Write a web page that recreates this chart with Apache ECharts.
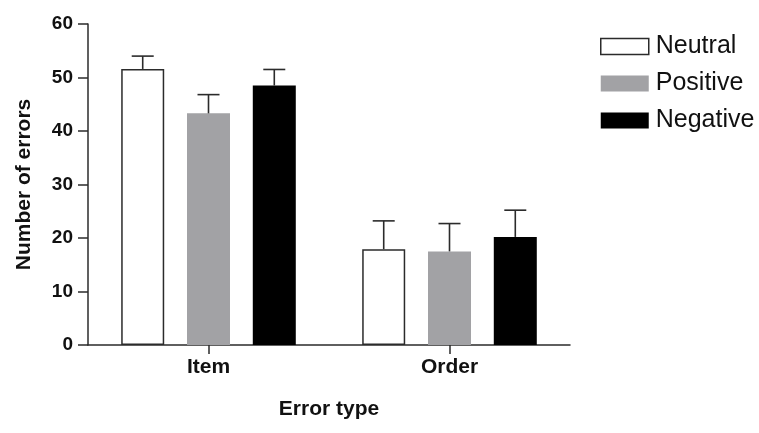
<!DOCTYPE html>
<html>
<head>
<meta charset="utf-8">
<script src="https://cdn.jsdelivr.net/npm/echarts@6/dist/echarts.min.js"></script>
<style>html,body{margin:0;padding:0;background:#fff}#c{width:759px;height:433px}</style>
</head>
<body>
<div id="c"></div>
<script>
var categories = ['Item', 'Order'];
var seriesNames = ['Neutral', 'Positive', 'Negative'];
var neutralValues = [51.6, 17.9];
var neutralErrors = [2.4, 5.3];
var positiveValues = [43.3, 17.5];
var positiveErrors = [3.5, 5.2];
var negativeValues = [48.5, 20.2];
var negativeErrors = [3.0, 5.0];
var yTicks = { min: 0, max: 60, interval: 10 };

var BAR_W = 43, GAP_RATIO = 0.53;
var axisColor = '#2b2b2b';
var fills = ['#ffffff', '#a2a2a5', '#000000'];
var values = [neutralValues, positiveValues, negativeValues];
var errors = [neutralErrors, positiveErrors, negativeErrors];
var axisFont = 'Liberation Sans, Arial, sans-serif';

var chart = echarts.init(document.getElementById('c'), null, { renderer: 'canvas' });

var series = [];
seriesNames.forEach(function (name, i) {
  series.push({
    name: name,
    type: 'bar',
    data: values[i],
    barWidth: BAR_W,
    barGap: (GAP_RATIO * 100) + '%',
    itemStyle: {
      color: fills[i],
      borderColor: i === 0 ? axisColor : fills[i],
      borderWidth: i === 0 ? 1.5 : 0
    },
    z: 2
  });
});

seriesNames.forEach(function (name, i) {
  var data = values[i].map(function (v, k) { return [k, v, v + errors[i][k]]; });
  var offset = (i - 1) * BAR_W * (1 + GAP_RATIO);
  series.push({
    type: 'custom',
    name: name + ' err',
    data: data,
    z: 3,
    silent: true,
    renderItem: function (params, api) {
      var base = api.coord([api.value(0), api.value(1)]);
      var top = api.coord([api.value(0), api.value(2)]);
      var x = base[0] + offset;
      var half = 11;
      var style = { stroke: axisColor, lineWidth: 1.6 };
      return {
        type: 'group',
        children: [
          { type: 'line', shape: { x1: x, y1: base[1], x2: x, y2: top[1] }, style: style },
          { type: 'line', shape: { x1: x - half, y1: top[1], x2: x + half, y2: top[1] }, style: style }
        ]
      };
    }
  });
});

chart.setOption({
  backgroundColor: '#ffffff',
  animation: false,
  grid: { left: 88, right: 189, top: 24, bottom: 88, containLabel: false },
  legend: {
    data: seriesNames.map(function (n, i) {
      return {
        name: n,
        itemStyle: {
          color: fills[i],
          borderColor: i === 0 ? axisColor : fills[i],
          borderWidth: i === 0 ? 1.5 : 0
        }
      };
    }),
    orient: 'vertical',
    left: 600,
    top: 34,
    padding: 0,
    itemWidth: 48,
    itemHeight: 16,
    itemGap: 12,
    icon: 'rect',
    textStyle: { fontFamily: 'Liberation Sans', fontSize: 25, lineHeight: 24, color: '#111', padding: [0, 0, 0, 2] }
  },
  xAxis: {
    type: 'category',
    data: categories,
    name: 'Error type',
    nameLocation: 'middle',
    nameGap: 54,
    nameTextStyle: { fontFamily: axisFont, fontWeight: 'bold', fontSize: 21, color: '#111', verticalAlign: 'top' },
    axisLine: { lineStyle: { color: axisColor, width: 1.5 } },
    axisTick: { show: true, alignWithLabel: true, length: 9, lineStyle: { color: axisColor, width: 1.5 } },
    axisLabel: { fontFamily: axisFont, fontWeight: 'bold', fontSize: 21, color: '#111', margin: 12 },
    splitLine: { show: false }
  },
  yAxis: {
    type: 'value',
    min: yTicks.min,
    max: yTicks.max,
    interval: yTicks.interval,
    name: 'Number of errors',
    nameLocation: 'middle',
    nameGap: 53,
    nameTextStyle: { fontFamily: axisFont, fontWeight: 'bold', fontSize: 21, color: '#111' },
    axisLine: { show: true, lineStyle: { color: axisColor, width: 1.5 } },
    axisTick: { show: true, length: 10, lineStyle: { color: axisColor, width: 1.5 } },
    axisLabel: { fontFamily: axisFont, fontWeight: 'bold', fontSize: 19, color: '#111', margin: 15 },
    splitLine: { show: false }
  },
  series: series
});
</script>
</body>
</html>
